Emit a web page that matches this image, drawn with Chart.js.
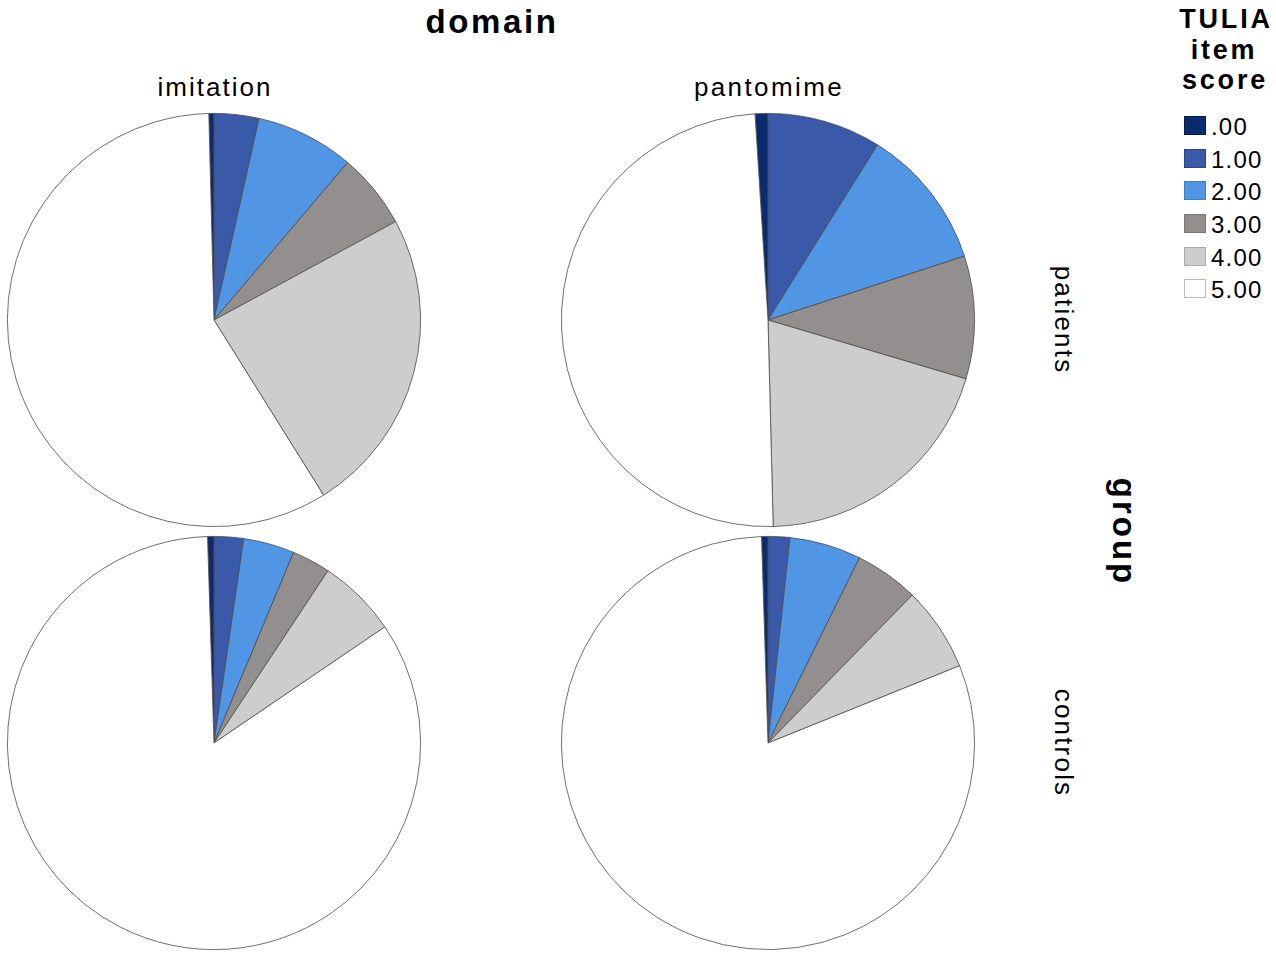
<!DOCTYPE html>
<html lang="en">
<head>
  <meta charset="UTF-8">
  <title>TULIA item score by domain and group</title>
  <script src="https://cdn.jsdelivr.net/npm/chart.js"></script>
  <style>
    body {
      margin: 0;
      background: #ffffff;
      font-family: "Liberation Sans", Arial, sans-serif;
      color: #000;
    }
    .stage {
      position: relative;
      width: 1276px;
      height: 957px;
      overflow: hidden;
    }
    .pie {
      position: absolute;
      width: 416px;
      height: 416px;
    }
    .lbl {
      position: absolute;
      white-space: nowrap;
      transform: translate(-50%, -50%);
    }
    .bold { font-weight: bold; }
    .rot { transform: translate(-50%, -50%) rotate(90deg); }
    .legend {
      position: absolute;
      left: 1184px;
      top: 111px;
    }
    .legend-item {
      display: flex;
      align-items: center;
      height: 32.6px;
      font-size: 24px;
      letter-spacing: 1.2px;
    }
    .legend-box {
      width: 22px;
      height: 19px;
      margin-right: 5px;
      margin-top: -3px;
      box-sizing: border-box;
    }
  </style>
</head>
<body>
<div class="stage" id="stage">
  <div class="lbl bold" style="left:492px; top:22px; font-size:33px; letter-spacing:2.6px;">domain</div>
  <div class="lbl" style="left:215px; top:87px; font-size:26px; letter-spacing:2px;">imitation</div>
  <div class="lbl" style="left:769px; top:87px; font-size:26px; letter-spacing:2.4px;">pantomime</div>
  <div class="lbl rot" style="left:1063px; top:320px; font-size:26px; letter-spacing:2.2px;">patients</div>
  <div class="lbl rot" style="left:1063px; top:743px; font-size:26px; letter-spacing:2.2px;">controls</div>
  <div class="lbl rot bold" style="left:1124px; top:532px; font-size:33px; letter-spacing:3px;">group</div>
  <div class="lbl bold" style="left:1226px; top:19px; font-size:27px; letter-spacing:2.8px;">TULIA</div>
  <div class="lbl bold" style="left:1224px; top:50px; font-size:27px; letter-spacing:2.8px;">item</div>
  <div class="lbl bold" style="left:1225px; top:80px; font-size:27px; letter-spacing:2.8px;">score</div>
  <div class="legend" id="legend"></div>

  <canvas class="pie" id="pieImitPat" style="left:6px; top:112px;"></canvas>
  <canvas class="pie" id="piePantPat" style="left:560px; top:112px;"></canvas>
  <canvas class="pie" id="pieImitCon" style="left:6px; top:535px;"></canvas>
  <canvas class="pie" id="piePantCon" style="left:560px; top:535px;"></canvas>
</div>

<script>
  // score categories and colours
  const scores = ['.00', '1.00', '2.00', '3.00', '4.00', '5.00'];
  const colors = ['#0c2a6e', '#3b59a9', '#5195e5', '#948f8f', '#cdcdcd', '#ffffff'];
  const legendBorders = ['#061a48', '#2a4486', '#3f7dc8', '#7a7676', '#aaaaaa', '#bbbbbb'];

  // percentage of items per score
  const imitationPatients = [0.4, 3.5, 7.7, 5.9, 24.0, 58.5];
  const pantomimePatients = [1.0, 8.9, 11.1, 9.6, 20.0, 49.4];
  const imitationControls = [0.5, 2.3, 4.0, 3.0, 6.2, 84.0];
  const pantomimeControls = [0.5, 1.7, 5.6, 5.0, 6.6, 80.6];

  // legend
  const legend = document.getElementById('legend');
  scores.forEach((s, i) => {
    const item = document.createElement('div');
    item.className = 'legend-item';
    const box = document.createElement('div');
    box.className = 'legend-box';
    box.style.background = colors[i];
    box.style.border = '1.5px solid ' + legendBorders[i];
    const txt = document.createElement('span');
    txt.textContent = s;
    item.appendChild(box);
    item.appendChild(txt);
    legend.appendChild(item);
  });

  // the .00 slice sits just left of 12 o'clock, the rest run clockwise from the top
  const createPie = (id, values) => {
    const total = values.reduce((a, b) => a + b, 0);
    return new Chart(document.getElementById(id), {
      type: 'pie',
      data: {
        labels: scores,
        datasets: [{
          data: values,
          backgroundColor: colors,
          borderColor: '#4a4a4a',
          borderWidth: 0.8
        }]
      },
      options: {
        responsive: false,
        animation: false,
        rotation: -values[0] / total * 360,
        layout: { padding: 1 },
        plugins: {
          legend: { display: false },
          tooltip: { enabled: false }
        }
      }
    });
  };

  createPie('pieImitPat', imitationPatients);
  createPie('piePantPat', pantomimePatients);
  createPie('pieImitCon', imitationControls);
  createPie('piePantCon', pantomimeControls);
</script>
</body>
</html>
